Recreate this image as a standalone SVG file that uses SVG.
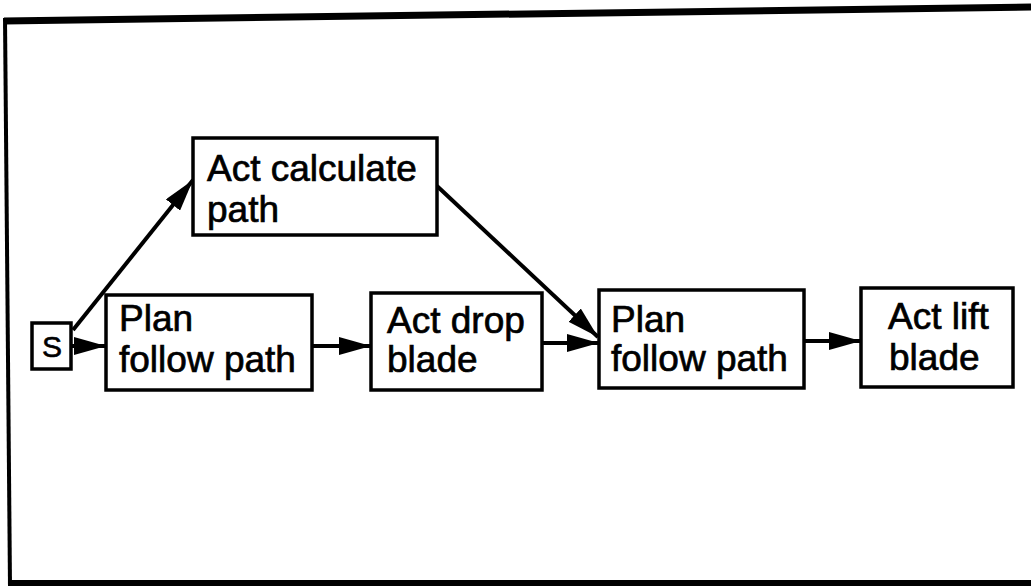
<svg xmlns="http://www.w3.org/2000/svg" width="1031" height="586" viewBox="0 0 1031 586">
<defs>
<style>
.box{fill:#fff;stroke:#000;stroke-width:3.5}
.t{font-family:"Liberation Sans",Arial,sans-serif;font-size:37px;fill:#000;stroke:#000;stroke-width:0.7}
.s{font-family:"Liberation Sans",Arial,sans-serif;font-size:30px;fill:#000;stroke:#000;stroke-width:0.6}
.e{stroke:#000;stroke-width:4;fill:none}
.frame{stroke:#000;fill:none}
</style>
<marker id="ah" markerWidth="32" markerHeight="18" refX="32" refY="9" orient="auto" markerUnits="userSpaceOnUse">
<path d="M0,0 L32,9 L0,18 Z" fill="#000"/>
</marker>
</defs>
<rect width="1031" height="586" fill="#fff"/>
<g id="frame">
<line class="frame" x1="4" y1="21" x2="1031" y2="7" stroke-width="7"/>
<line class="frame" x1="5" y1="18" x2="10" y2="586" stroke-width="4"/>
<line class="frame" x1="8" y1="583" x2="1031" y2="583" stroke-width="6"/>
</g>
<g id="connectors">
<line class="e" x1="73" y1="330" x2="193" y2="180" marker-end="url(#ah)"/>
<line class="e" x1="72" y1="346" x2="106" y2="346" marker-end="url(#ah)"/>
<line class="e" x1="312" y1="346" x2="371" y2="346" marker-end="url(#ah)"/>
<line class="e" x1="542" y1="343" x2="599" y2="343" marker-end="url(#ah)"/>
<line class="e" x1="437" y1="186" x2="598" y2="337" marker-end="url(#ah)"/>
<line class="e" x1="804" y1="341" x2="861" y2="341" marker-end="url(#ah)"/>
</g>
<g id="node-s">
<rect class="box" x="32" y="323" width="39" height="46"/>
<text class="s" x="52" y="357" text-anchor="middle">S</text>
</g>
<g id="node-calc">
<rect class="box" x="193" y="138" width="244" height="97"/>
<text class="t" x="207" y="181">Act calculate</text>
<text class="t" x="207" y="222">path</text>
</g>
<g id="node-plan1">
<rect class="box" x="106" y="295" width="206" height="95"/>
<text class="t" x="119" y="331">Plan</text>
<text class="t" x="119" y="372">follow path</text>
</g>
<g id="node-drop">
<rect class="box" x="371" y="293" width="171" height="97"/>
<text class="t" x="387" y="333">Act drop</text>
<text class="t" x="387" y="372">blade</text>
</g>
<g id="node-plan2">
<rect class="box" x="599" y="290" width="205" height="98"/>
<text class="t" x="611" y="332">Plan</text>
<text class="t" x="611" y="371">follow path</text>
</g>
<g id="node-lift">
<rect class="box" x="861" y="288" width="152" height="99"/>
<text class="t" x="888" y="329">Act lift</text>
<text class="t" x="889" y="370">blade</text>
</g>
</svg>
